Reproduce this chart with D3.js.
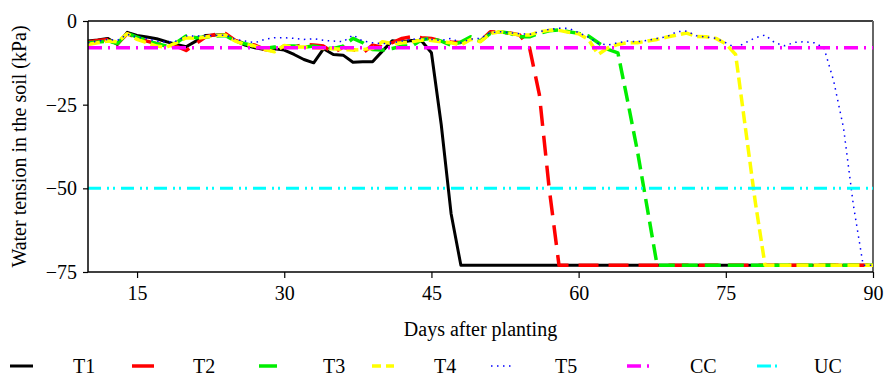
<!DOCTYPE html>
<html><head><meta charset="utf-8">
<script src="https://cdn.jsdelivr.net/npm/d3@7"></script>
</head>
<body style="margin:0"><svg id="chart" width="885" height="376"></svg>
<script>
// Days after planting (first day of every series)
const startDay = 10;
const xTicks = [15, 30, 45, 60, 75, 90];
const yTicks = [0, -25, -50, -75];

const T1 = [-6,-5.7,-5.2,-7,-3.4,-4.3,-4.8,-5.3,-6.2,-7,
  -7.7,-6,-4.3,-4.2,-4,-5.8,-7.2,-8,-8.5,-8.3,
  -8.7,-10,-11.5,-12.5,-8.3,-10,-10.2,-12.3,-12.2,-12.2,
  -9,-5.9,-6.3,-5.8,-6,-9.5,-31,-57.5,-73,-73,
  -73,-73,-73,-73,-73,-73,-73,-73,-73,-73,
  -73,-73,-73,-73,-73,-73,-73,-73,-73,-73,
  -73,-73,-73,-73,-73,-73,-73,-73,-73,-73,
  -73,-73,-73,-73,-73,-73,-73,-73,-73,-73,
  -73];
const T2 = [-6.3,-5.8,-5.5,-6.8,-3.8,-5,-6,-6.8,-7.2,-7.5,
  -8.8,-6.8,-4.7,-4,-3.7,-5.8,-6.8,-7.2,-8.5,-9,
  -7.5,-7.8,-7,-7.2,-7.5,-9.5,-7.8,-8.5,-9.6,-7.2,
  -7.8,-6.5,-5.2,-4.7,-5,-5.2,-6,-6.3,-6.4,-5.6,
  -6,-3.2,-3.4,-3.6,-4.2,-8,-22,-50,-73,-73,
  -73,-73,-73,-73,-73,-73,-73,-73,-73,-73,
  -73,-73,-73,-73,-73,-73,-73,-73,-73,-73,
  -73,-73,-73,-73,-73,-73,-73,-73,-73,-73,
  -73];
const T3 = [-6.5,-6.3,-6,-6.7,-3.7,-4.8,-5.8,-6.8,-7.5,-6.5,
  -4.5,-5,-4.8,-4.5,-4.3,-6,-6.8,-7.5,-8.2,-7.8,
  -7.5,-7.5,-7.8,-7.5,-8,-8.2,-7.5,-5.2,-6.5,-8.5,
  -8.7,-8.2,-7.5,-7.5,-5.6,-5.2,-6,-7.2,-6.3,-4.7,
  -6,-3.7,-3.2,-3.7,-4.7,-4.7,-3.7,-2.9,-2.7,-3.2,
  -3.7,-4.5,-6.5,-8.5,-9.5,-24,-39,-56,-73,-73,
  -73,-73,-73,-73,-73,-73,-73,-73,-73,-73,
  -73,-73,-73,-73,-73,-73,-73,-73,-73,-73,
  -73];
const T4 = [-7,-6.5,-6,-6.2,-3.8,-5.5,-6.5,-7.5,-7.8,-6.5,
  -5,-5.2,-4.8,-4.3,-4.2,-6,-7,-7.5,-8.5,-9.2,
  -7.3,-7.8,-7.8,-8,-8.2,-8.3,-8.5,-8.7,-8.5,-8.2,
  -6.2,-6.8,-6.5,-6.2,-5.7,-5.8,-6.2,-6.5,-7.2,-5.5,
  -6.2,-3.7,-3.2,-3.7,-4.2,-4.2,-3.2,-2.8,-2.8,-3.4,
  -3.8,-5.5,-10,-8,-7,-6.5,-6.5,-6,-5.5,-4.8,
  -4.2,-3.6,-4.6,-4.7,-5.2,-6.8,-10,-32,-54,-73,
  -73,-73,-73,-73,-73,-73,-73,-73,-73,-73,
  -73];
const T5 = [-6.5,-6,-5.5,-5.8,-4,-4.8,-5.3,-6,-6.3,-6,
  -4.5,-4.5,-4.5,-4.3,-4.2,-5.5,-6,-6.5,-5.5,-5,
  -5,-5.2,-5.5,-5.3,-5.8,-6,-6.2,-4.2,-6,-6.5,
  -6.8,-6.5,-6,-5.5,-5.2,-5.5,-5.8,-5.2,-6.5,-5.4,
  -5.2,-3.5,-3.2,-3.5,-3.8,-4,-3.2,-2.5,-2.2,-2.2,
  -3.5,-4.8,-6.7,-7.2,-6.5,-6,-6.2,-5.8,-5.2,-4.7,
  -3.2,-3,-4.4,-4.8,-5.2,-6.5,-8,-6.5,-5,-4.2,
  -6.5,-7.4,-6.4,-6.2,-6.5,-8,-18,-32,-55,-73,
  -73];
const CC = -8;
const UC = -50;

const seriesNames = ["T1","T2","T3","T4","T5","CC","UC"];

const svg = d3.select("#chart");
const L = 88, R = 873, T = 21, B = 272;
const x = d3.scaleLinear().domain([10, 90]).range([L, R]);
const y = d3.scaleLinear().domain([-75, 0]).range([B, T]);

const styles = {
  T1: {color:"#000000", w:3, dash:null},
  T2: {color:"#ff0000", w:3.5, dash:"20,10"},
  T3: {color:"#00ee00", w:3.5, dash:"16,7"},
  T4: {color:"#ffff00", w:3.5, dash:"12,5"},
  T5: {color:"#0000ff", w:1.5, dash:"1.5,4.5"},
  CC: {color:"#ff00ff", w:3.5, dash:"14,6,2,6"},
  UC: {color:"#00ffff", w:3, dash:"13,6,2,4,2,6"}
};

const toPts = arr => arr.map((v,i) => [startDay + i, v]);
const data = {T1:toPts(T1),T2:toPts(T2),T3:toPts(T3),T4:toPts(T4),T5:toPts(T5),
  CC:[[10,CC],[90,CC]], UC:[[10,UC],[90,UC]]};

const line = d3.line().x(d=>x(d[0])).y(d=>y(d[1]));

svg.append("line").attr("x1",L).attr("x2",R).attr("y1",T).attr("y2",T)
  .attr("stroke","#000").attr("stroke-width",1.5);
svg.append("line").attr("x1",R).attr("x2",R).attr("y1",T).attr("y2",B)
  .attr("stroke","#666").attr("stroke-width",2);

const g = svg.append("g");
seriesNames.forEach(n => {
  const s = styles[n];
  g.append("path").datum(data[n]).attr("d", line)
    .attr("fill","none").attr("stroke", s.color).attr("stroke-width", s.w)
    .attr("stroke-dasharray", s.dash).attr("stroke-linejoin","round");
});

const FONT = "Liberation Serif";
const setFont = sel => sel.attr("font-family", FONT).attr("font-size", 20).attr("fill", "#000");

const xAxis = d3.axisBottom(x).tickValues(xTicks).tickSize(6).tickPadding(8).tickFormat(d3.format("d"));
const yAxis = d3.axisLeft(y).tickValues(yTicks).tickSize(5).tickPadding(6).tickFormat(d3.format("d"));
const gx = svg.append("g").attr("transform",`translate(0,${B})`).call(xAxis);
const gy = svg.append("g").attr("transform",`translate(${L},0)`).call(yAxis);
[gx, gy].forEach(a => {
  a.attr("font-family", FONT).attr("font-size", 20);
  a.select(".domain").attr("stroke","#000").attr("stroke-width",1.5);
  a.selectAll(".tick line").attr("stroke","#000").attr("stroke-width",1.2);
  setFont(a.selectAll("text"));
});
gy.select(".domain").attr("d", `M0,${T}V${B}`);
gx.select(".domain").attr("d", `M${L},0H${R}`);

setFont(svg.append("text").attr("x",(L+R)/2).attr("y",336).attr("text-anchor","middle")
  .text("Days after planting"));
setFont(svg.append("text").attr("transform",`translate(26,${(T+B)/2}) rotate(-90)`)
  .attr("text-anchor","middle").text("Water tension in the soil (kPa)"));

const legendPos = [
  {n:"T1", s:10, e:33, t:73},
  {n:"T2", s:132, e:154, t:193},
  {n:"T3", s:259, e:277, t:323},
  {n:"T4", s:372, e:394, t:434},
  {n:"T5", s:491, e:515, t:555},
  {n:"CC", s:627, e:649, t:690},
  {n:"UC", s:757, e:779, t:814}
];
const ly = 366;
legendPos.forEach(p => {
  const s = styles[p.n];
  let dash = s.dash;
  if (p.n === "T4") dash = "9,5";
  if (p.n === "T2" || p.n === "T3") dash = null;
  if (p.n === "UC") dash = "14,4,2,6";
  svg.append("line").attr("x1",p.s).attr("x2",p.e).attr("y1",ly).attr("y2",ly)
    .attr("stroke",s.color).attr("stroke-width",s.w).attr("stroke-dasharray",dash);
  setFont(svg.append("text").attr("x",p.t).attr("y",ly+7).text(p.n));
});
</script></body></html>
